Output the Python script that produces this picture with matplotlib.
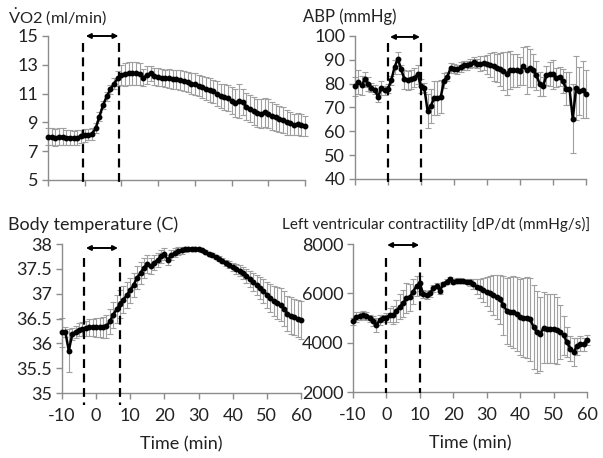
import numpy as np
import matplotlib
matplotlib.use("Agg")
import matplotlib.pyplot as plt

plt.rcParams['font.family'] = ['Lato', 'DejaVu Sans']
plt.rcParams['mathtext.fontset'] = 'custom'
plt.rcParams['mathtext.rm'] = 'Lato'
plt.rcParams['axes.unicode_minus'] = False

# time axis, one point per minute
time_min = list(range(-10, 61))

vo2 = [8.0, 8.0, 7.95, 8.0, 8.0, 7.95, 7.95, 7.9, 7.95, 8.05, 8.1,
       8.15, 8.2, 8.6, 9.4, 10.2, 10.8, 11.3, 11.7, 12.05, 12.3,
       12.35, 12.4, 12.4, 12.4, 12.35, 12.1, 12.3, 12.4, 12.2, 12.15,
       12.1, 12.05, 12.05, 12.0, 12.0, 11.95, 11.85, 11.8, 11.7, 11.65,
       11.55, 11.45, 11.35, 11.25, 11.15, 11.0, 10.85, 10.75, 10.7, 10.5,
       10.35, 10.5, 10.4, 10.1, 9.95, 9.8, 9.65, 9.6, 9.7, 9.6,
       9.45, 9.35, 9.25, 9.15, 9.0, 8.95, 8.85, 8.9, 8.8, 8.75]
vo2_err = [0.6, 0.6, 0.6, 0.6, 0.6, 0.55, 0.55, 0.5, 0.5, 0.45, 0.45,
           0.4, 0.4, 0.35, 0.3, 0.3, 0.3, 0.3, 0.35, 0.5, 0.7,
           0.8, 0.8, 0.8, 0.8, 0.75, 0.6, 0.6, 0.55, 0.6, 0.6,
           0.6, 0.6, 0.65, 0.65, 0.65, 0.7, 0.7, 0.7, 0.7, 0.75,
           0.75, 0.75, 0.8, 0.8, 0.8, 0.85, 0.85, 0.9, 0.9, 0.95,
           0.95, 1.2, 0.9, 0.95, 0.95, 0.95, 1.0, 1.0, 1.0, 1.0,
           0.95, 0.95, 0.9, 0.9, 0.85, 0.8, 0.75, 0.75, 0.75, 0.7]

abp = [78.9, 80.7, 79.3, 81.8, 80.0, 78.3, 77.5, 74.4, 78.3, 77.2, 77.9,
       81.4, 87.0, 90.4, 86.0, 81.8, 81.4, 81.8, 82.5, 83.9, 79.0,
       78.3, 68.6, 70.7, 74.0, 74.0, 74.5, 81.3, 83.0, 86.6, 86.3,
       86.0, 87.0, 87.7, 87.7, 88.4, 89.0, 88.4, 88.4, 88.7, 88.2,
       87.7, 87.3, 86.6, 86.0, 85.3, 84.2, 85.6, 85.6, 85.6, 85.3,
       87.3, 85.6, 86.6, 85.6, 83.5, 79.7, 78.9, 83.5, 83.9, 83.9,
       82.5, 83.0, 81.1, 77.9, 77.9, 65.2, 78.3, 76.9, 77.5, 75.8]
abp_err = [4, 5, 4, 3, 3, 2, 2, 2, 3, 2, 2,
           2, 3, 3, 2, 4, 4, 4, 4, 4, 3,
           2, 7, 7, 7, 7, 7, 3, 2, 2, 2,
           2, 2, 2, 2, 2, 2, 2, 3, 3, 4,
           5, 6, 6, 7, 8, 9, 8, 7, 7, 6,
           8, 10, 8, 7, 6, 5, 4, 4, 5, 6,
           4, 4, 5, 7, 7, 14.5, 13.5, 10, 12, 10]

temp = [36.22, 36.22, 35.85, 36.19, 36.23, 36.27, 36.29, 36.30, 36.32, 36.32, 36.32,
        36.32, 36.32, 36.34, 36.44, 36.57, 36.69, 36.79, 36.88, 36.97, 37.07,
        37.18, 37.32, 37.42, 37.52, 37.60, 37.55, 37.62, 37.68, 37.75, 37.79,
        37.68, 37.77, 37.82, 37.85, 37.87, 37.89, 37.90, 37.90, 37.90, 37.89,
        37.87, 37.84, 37.80, 37.77, 37.74, 37.70, 37.66, 37.62, 37.58, 37.54,
        37.50, 37.46, 37.42, 37.36, 37.30, 37.23, 37.18, 37.11, 37.05, 36.98,
        36.92, 36.86, 36.81, 36.78, 36.70, 36.60, 36.56, 36.53, 36.50, 36.47]
temp_err = [0.3, 0.1, 0.43, 0.12, 0.12, 0.13, 0.14, 0.15, 0.17, 0.18, 0.19,
            0.2, 0.22, 0.24, 0.25, 0.27, 0.28, 0.28, 0.27, 0.26, 0.25,
            0.24, 0.23, 0.22, 0.2, 0.18, 0.16, 0.15, 0.14, 0.13, 0.12,
            0.1, 0.1, 0.09, 0.08, 0.07, 0.06, 0.05, 0.04, 0.03, 0.03,
            0.03, 0.03, 0.03, 0.04, 0.04, 0.05, 0.05, 0.06, 0.07, 0.08,
            0.1, 0.11, 0.12, 0.14, 0.16, 0.18, 0.2, 0.22, 0.24, 0.26,
            0.28, 0.3, 0.32, 0.34, 0.35, 0.36, 0.37, 0.37, 0.38, 0.38]

dpdt = [4870, 5050, 5080, 5120, 5080, 4990, 4870, 4730, 4910, 4990, 5020,
        5120, 5120, 5290, 5460, 5600, 5800, 5840, 6070, 6300, 6410,
        5970, 5930, 6000, 6200, 6300, 6110, 6380, 6480, 6570, 6480,
        6520, 6520, 6500, 6480, 6440, 6370, 6270, 6200, 6140, 6070,
        6000, 5930, 5860, 5760, 5520, 5290, 5250, 5250, 5180, 5050,
        5020, 5020, 4940, 4640, 4430, 4340, 4610, 4570, 4570, 4570,
        4500, 4430, 4300, 4030, 3760, 3620, 3850, 3960, 3930, 4120]
dpdt_err = [150, 200, 150, 150, 150, 150, 200, 280, 200, 150, 200,
            300, 350, 450, 500, 550, 600, 550, 500, 400, 300,
            150, 150, 150, 150, 100, 150, 100, 100, 100, 100,
            100, 100, 100, 100, 150, 200, 300, 400, 500, 600,
            700, 800, 900, 1000, 1200, 1350, 1400, 1450, 1500, 1550,
            1600, 1650, 1700, 1700, 1650, 1500, 1450, 1400, 1400, 1400,
            1350, 1100, 800, 600, 500, 550, 350, 300, 250, 200]

x_ticks = [-10, 0, 10, 20, 30, 40, 50, 60]

fig = plt.figure(figsize=(6.03, 4.58), dpi=100)

panels = [
    dict(rect=[0.0796, 0.607, 0.4262, 0.3144], y=vo2, err=vo2_err,
         ylim=(5, 15), yticks=[5, 7, 9, 11, 13, 15], ylabels=None,
         title=r"$\mathregular{\dot{V}}$O2 (ml/min)", tx=0.013, tsize=11.8,
         dash=(-0.6, 9.4), dash_y=(14.5, 4.75), arrow=(0.3, 9.2), arrow_y=15.0,
         xlabels=False),
    dict(rect=[0.5887, 0.6092, 0.3831, 0.3122], y=abp, err=abp_err,
         ylim=(40, 100), yticks=[40, 50, 60, 70, 80, 90, 100], ylabels=None,
         title="ABP (mmHg)", tx=0.502, tsize=12,
         dash=(0, 10), dash_y=(97, 38), arrow=(0.6, 9.7), arrow_y=99.6,
         xlabels=False),
    dict(rect=[0.1028, 0.1419, 0.3964, 0.3253], y=temp, err=temp_err,
         ylim=(35, 38), yticks=[35, 35.5, 36, 36.5, 37, 37.5, 38],
         ylabels=["35", "35.5", "36", "36.5", "37", "37.5", "38"],
         title="Body temperature (C)", tx=0.013, tsize=13,
         dash=(-3.5, 7.0), dash_y=(37.72, 34.76), arrow=(-3.0, 6.4), arrow_y=37.92,
         xlabels=True),
    dict(rect=[0.5854, 0.1441, 0.3881, 0.3231], y=dpdt, err=dpdt_err,
         ylim=(2000, 8000), yticks=[2000, 4000, 6000, 8000], ylabels=None,
         title="Left ventricular contractility [dP/dt (mmHg/s)]", tx=0.467, tsize=11,
         dash=(0, 10), dash_y=(7430, 1960), arrow=(0.2, 9.8), arrow_y=7960,
         xlabels=True),
]

spine_c = '#8c8c8c'
for p in panels:
    ax = fig.add_axes(p['rect'])
    ax.errorbar(time_min, p['y'], yerr=p['err'], fmt='none', ecolor='#a0a0a0',
                elinewidth=0.8, capsize=2.2, capthick=0.8, clip_on=False, zorder=2)
    ax.plot(time_min, p['y'], color='black', lw=1.8, marker='o', ms=3.2,
            clip_on=False, zorder=3)
    ax.set_xlim(-10, 60)
    ax.set_ylim(*p['ylim'])
    ax.set_xticks(x_ticks)
    ax.set_yticks(p['yticks'])
    if p['ylabels'] is not None:
        ax.set_yticklabels(p['ylabels'])
    if not p['xlabels']:
        ax.set_xticklabels([])
    for s in ['top', 'right']:
        ax.spines[s].set_visible(False)
    for s in ['left', 'bottom']:
        ax.spines[s].set_color(spine_c)
        ax.spines[s].set_linewidth(1.0)
    ax.tick_params(axis='both', colors=spine_c, labelcolor='#222222',
                   labelsize=13, length=4, width=1.0, direction='out')
    ax.tick_params(axis='y', pad=3)
    ax.tick_params(axis='x', pad=7)

    for dx in p['dash']:
        ax.plot([dx, dx], p['dash_y'], color='black', lw=1.6,
                linestyle=(0, (4, 2.5)), clip_on=False, zorder=4)
    ax.annotate('', xy=(p['arrow'][0], p['arrow_y']), xytext=(p['arrow'][1], p['arrow_y']),
                arrowprops=dict(arrowstyle='<|-|>', color='black', lw=1.4,
                                mutation_scale=7, shrinkA=0, shrinkB=0),
                annotation_clip=False)

    top = p['rect'][1] + p['rect'][3]
    fig.text(p['tx'], top + 0.042, p['title'], fontsize=p['tsize'], color='#222222',
             ha='left', va='center')
    if p['xlabels']:
        ax.set_xlabel('Time (min)', fontsize=13, color='#222222', labelpad=9)

fig.savefig('out.png', dpi=100)
